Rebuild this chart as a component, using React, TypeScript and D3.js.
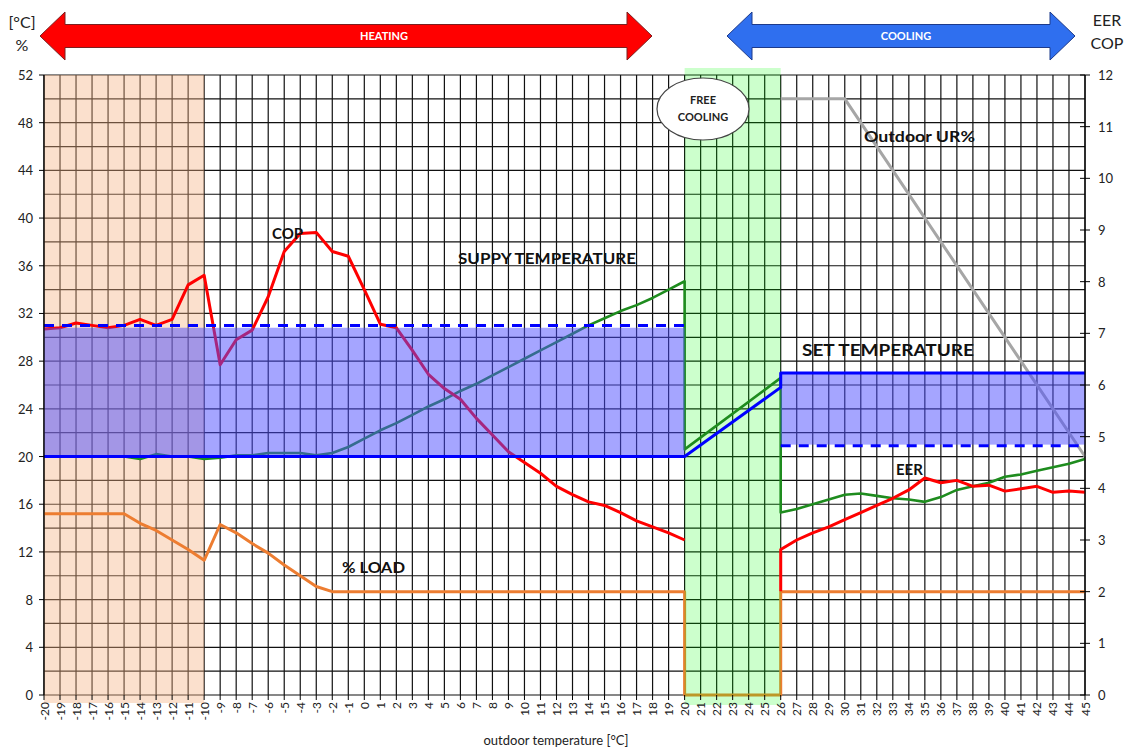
import React from "react";
import * as d3 from "d3";

// ---------- data ----------
const heatingTemps = d3.range(-20, 21);
const copHeating = [30.7, 30.8, 31.2, 31.0, 30.8, 31.0, 31.5, 31.0, 31.5, 34.4, 35.2, 27.7, 29.8, 30.6, 33.4, 37.2, 38.7, 38.8, 37.2, 36.8, 34.0, 31.1, 30.8, 28.9, 26.9, 25.7, 24.8, 23.2, 21.8, 20.4, 19.5, 18.6, 17.5, 16.8, 16.2, 15.9, 15.3, 14.6, 14.1, 13.6, 13.0];
const supplyHeating = [20.0, 20.0, 20.0, 20.0, 20.0, 20.0, 19.8, 20.2, 20.0, 20.0, 19.8, 19.9, 20.1, 20.1, 20.3, 20.3, 20.3, 20.1, 20.3, 20.8, 21.5, 22.2, 22.8, 23.5, 24.2, 24.8, 25.5, 26.1, 26.8, 27.5, 28.2, 28.9, 29.6, 30.3, 31.0, 31.6, 32.2, 32.7, 33.3, 34.0, 34.7];
const supplyFreeCooling: [number, number][] = [[20, 34.7], [20, 20.6], [26, 26.6], [26, 15.3]];
const coolingTemps = d3.range(27, 46);
const supplyCooling = [15.6, 16.0, 16.4, 16.8, 16.9, 16.7, 16.5, 16.4, 16.2, 16.6, 17.2, 17.5, 17.8, 18.3, 18.5, 18.8, 19.1, 19.4, 19.8];
const eerStart: [number, number][] = [[26, 8.7], [26, 12.2]];
const eerCooling = [13.0, 13.6, 14.1, 14.7, 15.3, 15.9, 16.5, 17.2, 18.2, 17.8, 18.0, 17.5, 17.6, 17.1, 17.3, 17.5, 17.0, 17.1, 17.0];
const loadPoints: [number, number][] = [[-20, 15.2], [-15, 15.2], [-14, 14.4], [-13, 13.8], [-12, 13.0], [-11, 12.2], [-10, 11.3], [-9, 14.3], [-8, 13.6], [-7, 12.7], [-6, 11.9], [-5, 10.9], [-4, 10.0], [-3, 9.1], [-2, 8.67], [20, 8.67], [20, 0], [26, 0], [26, 8.67], [45, 8.67]];
const urPoints: [number, number][] = [[26, 50], [30, 50], [45, 20]];
const setLine: [number, number][] = [[-20, 20], [20, 20], [26, 25.8], [26, 27], [45, 27]];
const heatBand = { x0: -20, x1: 20, y0: 20, y1: 30.8, dash: 31 };
const coolBand = { x0: 26, x1: 45, y0: 21, y1: 27, dash: 20.9 };
const peachZone = [-20, -10];
const freeZone = [20, 26];
const leftTicks = d3.range(0, 53, 4);
const rightTicks = d3.range(0, 13, 1);
const xTicks = d3.range(-20, 46, 1);

// ---------- scales ----------
const W = 1132, H = 751;
const x = d3.scaleLinear().domain([-20, 45]).range([44, 1085]);
const yL = d3.scaleLinear().domain([0, 52]).range([695, 75]);
const yR = d3.scaleLinear().domain([0, 12]).range([695, 75]);

const line = d3.line<[number, number]>().x(d => x(d[0])).y(d => yL(d[1]));

const zip = (xs: number[], ys: number[]): [number, number][] => xs.map((v, i) => [v, ys[i]]);

const FONT = "Lato, 'Open Sans', sans-serif";

function arrowPath(xl: number, xr: number, cy: number, leftHead: boolean, rightHead: boolean) {
  const hl = 25, hh = 24, bh = 11.5;
  const p = d3.path();
  if (leftHead) {
    p.moveTo(xl, cy);
    p.lineTo(xl + hl, cy - hh);
    p.lineTo(xl + hl, cy - bh);
  } else {
    p.moveTo(xl, cy - bh);
  }
  if (rightHead) {
    p.lineTo(xr - hl, cy - bh);
    p.lineTo(xr - hl, cy - hh);
    p.lineTo(xr, cy);
    p.lineTo(xr - hl, cy + hh);
    p.lineTo(xr - hl, cy + bh);
  } else {
    p.lineTo(xr, cy - bh);
    p.lineTo(xr, cy + bh);
  }
  if (leftHead) {
    p.lineTo(xl + hl, cy + bh);
    p.lineTo(xl + hl, cy + hh);
  } else {
    p.lineTo(xl, cy + bh);
  }
  p.closePath();
  return p.toString();
}

export default function App() {
  const supplyAll: [number, number][] = [...zip(heatingTemps, supplyHeating), ...supplyFreeCooling, ...zip(coolingTemps, supplyCooling)];
  const eerAll: [number, number][] = [...eerStart, ...zip(coolingTemps, eerCooling)];
  const copAll = zip(heatingTemps, copHeating);
  const hGrid = d3.range(0, 53, 2);

  return (
    <svg width={W} height={H} style={{ position: "absolute", left: 0, top: 0, background: "#fff" }} fontFamily={FONT}>
      <rect x={0} y={0} width={W} height={H} fill="#fff" />
      {/* grid */}
      <g stroke="#111" strokeWidth={1.2}>
        {xTicks.map(t => (
          <line key={"v" + t} x1={x(t)} x2={x(t)} y1={yL(52)} y2={yL(0)} />
        ))}
        {hGrid.map(t => (
          <line key={"h" + t} x1={x(-20)} x2={x(45)} y1={yL(t)} y2={yL(t)} />
        ))}
      </g>
      {/* peach zone */}
      <rect x={x(peachZone[0])} y={yL(52)} width={x(peachZone[1]) - x(peachZone[0])} height={yL(0) - yL(52) + 8} fill="#F4B183" opacity={0.4} />
      {/* load line */}
      <path d={line(loadPoints) || ""} fill="none" stroke="#ED7D31" strokeWidth={3} strokeLinejoin="round" />
      {/* free cooling zone */}
      <rect x={x(freeZone[0])} y={yL(52) - 7} width={x(freeZone[1]) - x(freeZone[0])} height={yL(0) - yL(52) + 17} fill="#00FF00" opacity={0.2} />
      {/* outdoor UR% */}
      <path d={line(urPoints) || ""} fill="none" stroke="#A6A6A6" strokeWidth={3} />
      {/* supply temperature */}
      <path d={line(supplyAll) || ""} fill="none" stroke="#1E8C1E" strokeWidth={2.6} strokeLinejoin="round" />
      {/* COP */}
      <path d={line(copAll) || ""} fill="none" stroke="#FF0000" strokeWidth={3} strokeLinejoin="round" />
      {/* EER */}
      <path d={line(eerAll) || ""} fill="none" stroke="#FF0000" strokeWidth={3} strokeLinejoin="round" />
      {/* set temperature bands */}
      <rect x={x(heatBand.x0)} y={yL(heatBand.y1)} width={x(heatBand.x1) - x(heatBand.x0)} height={yL(heatBand.y0) - yL(heatBand.y1)} fill="rgb(75,75,255)" opacity={0.5} />
      <rect x={x(coolBand.x0)} y={yL(coolBand.y1)} width={x(coolBand.x1) - x(coolBand.x0)} height={yL(coolBand.y0) - yL(coolBand.y1)} fill="rgb(75,75,255)" opacity={0.5} />
      <line x1={x(heatBand.x0)} x2={x(heatBand.x1)} y1={yL(heatBand.dash)} y2={yL(heatBand.dash)} stroke="#0000FF" strokeWidth={3} strokeDasharray="10 8" />
      <line x1={x(coolBand.x0)} x2={x(coolBand.x1)} y1={yL(coolBand.dash)} y2={yL(coolBand.dash)} stroke="#0000FF" strokeWidth={3} strokeDasharray="10 8" />
      <path d={line(setLine) || ""} fill="none" stroke="#0000FF" strokeWidth={3} strokeLinejoin="round" />

      {/* left axis */}
      <g fontSize={13} fill="#222">
        <line x1={x(-20)} x2={x(-20)} y1={yL(0)} y2={yL(52)} stroke="#000" strokeWidth={1.2} />
        {leftTicks.map(t => (
          <g key={"lt" + t}>
            <line x1={x(-20) - 5} x2={x(-20)} y1={yL(t)} y2={yL(t)} stroke="#000" />
            <text x={x(-20) - 11} y={yL(t)} textAnchor="end" dominantBaseline="central">{t}</text>
          </g>
        ))}
      </g>
      {/* right axis */}
      <g fontSize={13} fill="#222">
        <line x1={x(45)} x2={x(45)} y1={yR(0)} y2={yR(12)} stroke="#000" strokeWidth={1.2} />
        {rightTicks.map(t => (
          <g key={"rt" + t}>
            <line x1={x(45) - 5} x2={x(45) + 5} y1={yR(t)} y2={yR(t)} stroke="#000" />
            <text x={x(45) + 13} y={yR(t)} textAnchor="start" dominantBaseline="central">{t}</text>
          </g>
        ))}
      </g>
      {/* bottom axis */}
      <g fontSize={12} fill="#222">
        {xTicks.map(t => (
          <g key={"xt" + t}>
            <line x1={x(t)} x2={x(t)} y1={yL(0)} y2={yL(0) + 5} stroke="#000" />
            <text transform={`translate(${x(t)},${yL(0) + 7}) rotate(-90)`} textAnchor="end" dominantBaseline="central">{t}</text>
          </g>
        ))}
        <text x={556} y={745} textAnchor="middle" fontSize={13}>outdoor temperature [°C]</text>
      </g>

      {/* axis unit labels */}
      <text x={22} y={28} textAnchor="middle" fontSize={16} fill="#222">[°C]</text>
      <text x={22} y={51} textAnchor="middle" fontSize={16} fill="#222">%</text>
      <text x={1107} y={26} textAnchor="middle" fontSize={16} fill="#222">EER</text>
      <text x={1107} y={49} textAnchor="middle" fontSize={16} fill="#222">COP</text>

      {/* arrows */}
      <path d={arrowPath(40, 652, 36, true, true)} fill="#FF0000" stroke="#7a2020" strokeWidth={1} />
      <text x={384} y={40} textAnchor="middle" fontSize={11} fontWeight="bold" fill="#fff">HEATING</text>
      <path d={arrowPath(727, 1075, 36, true, true)} fill="#2F6FEF" stroke="#1d3a8a" strokeWidth={1} />
      <text x={906} y={40} textAnchor="middle" fontSize={11} fontWeight="bold" fill="#fff">COOLING</text>

      {/* free cooling bubble */}
      <ellipse cx={703} cy={109} rx={46} ry={31} fill="#fff" stroke="#444" strokeWidth={1.2} />
      <text x={703} y={104} textAnchor="middle" fontSize={11} fontWeight="bold" fill="#222">FREE</text>
      <text x={703} y={121} textAnchor="middle" fontSize={11} fontWeight="bold" fill="#222">COOLING</text>

      {/* series labels */}
      <g fontWeight="bold" fill="#111">
        <text x={272} y={239} fontSize={15}>COP</text>
        <text x={458} y={264} fontSize={15} textLength={178} lengthAdjust="spacingAndGlyphs">SUPPY TEMPERATURE</text>
        <text x={342} y={573} fontSize={15} textLength={63} lengthAdjust="spacingAndGlyphs">% LOAD</text>
        <text x={802} y={356} fontSize={17} textLength={172} lengthAdjust="spacingAndGlyphs">SET TEMPERATURE</text>
        <text x={896} y={475} fontSize={15}>EER</text>
        <text x={864} y={142} fontSize={15} textLength={111} lengthAdjust="spacingAndGlyphs">Outdoor UR%</text>
      </g>
    </svg>
  );
}
